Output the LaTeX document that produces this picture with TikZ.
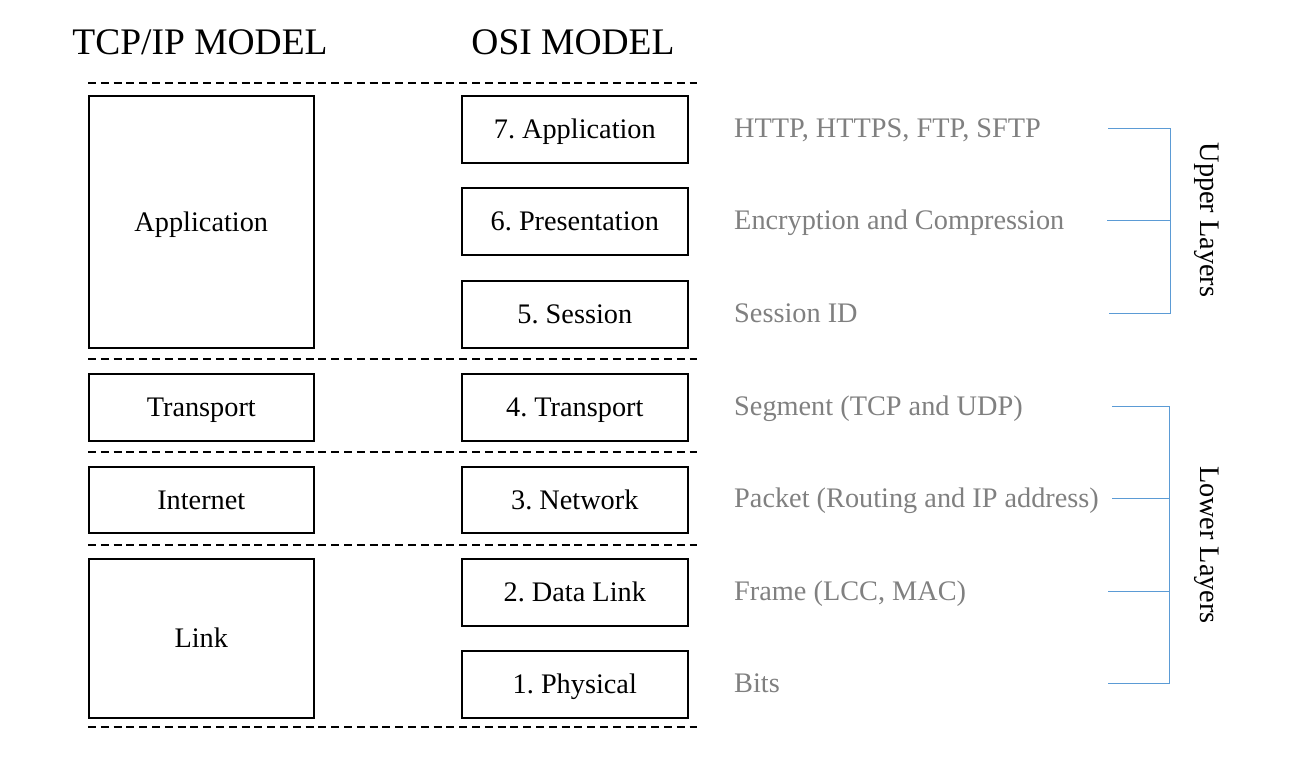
\documentclass[tikz,border=0pt]{standalone}
\usepackage{fontspec}
\setmainfont{Liberation Serif}
\definecolor{bluebr}{HTML}{5B9BD5}
\definecolor{greytxt}{HTML}{808080}
\frenchspacing
\begin{document}
\begin{tikzpicture}[x=1pt,y=-1pt,
  layerbox/.style={draw=black,line width=1.6pt,inner sep=0pt,anchor=north west,
    text height=18.6pt,text depth=0pt,
    font=\fontsize{28.3}{32}\selectfont},
  sep/.style={draw=black,line width=1.6pt,dash pattern=on 8pt off 4.8pt},
  title/.style={font=\fontsize{37.5}{42}\selectfont},
  info/.style={anchor=base west,inner sep=0pt,text=greytxt,font=\fontsize{28.3}{32}\selectfont},
  brk/.style={draw=bluebr,line width=1pt},
  side/.style={rotate=-90,font=\fontsize{28.3}{32}\selectfont}]
\useasboundingbox (0,0) rectangle (1308,760);
% titles
\node[title] (t1) at (200,42) {TCP/IP MODEL};
\node[title] (t2) at (573,42) {OSI MODEL};
% separators
\coordinate (s1a) at (88,83);  \coordinate (s1b) at (697,83);
\coordinate (s2a) at (88,359); \coordinate (s2b) at (697,359);
\coordinate (s3a) at (88,452); \coordinate (s3b) at (697,452);
\coordinate (s4a) at (88,545); \coordinate (s4b) at (697,545);
\coordinate (s5a) at (88,727); \coordinate (s5b) at (697,727);
\draw[sep] (s1a) -- (s1b);
\draw[sep] (s2a) -- (s2b);
\draw[sep] (s3a) -- (s3b);
\draw[sep] (s4a) -- (s4b);
\draw[sep] (s5a) -- (s5b);
% TCP/IP boxes
\node[layerbox,minimum width=225pt,minimum height=252pt] (tapp) at (88,95) {Application};
\node[layerbox,minimum width=225pt,minimum height=67pt] (ttra) at (88,373) {Transport};
\node[layerbox,minimum width=225pt,minimum height=66pt] (tint) at (88,466) {Internet};
\node[layerbox,minimum width=225pt,minimum height=159pt] (tlnk) at (88,558) {Link};
% OSI boxes
\node[layerbox,minimum width=226pt,minimum height=67pt] (o7) at (461,95) {7. Application};
\node[layerbox,minimum width=226pt,minimum height=67pt] (o6) at (461,187) {6. Presentation};
\node[layerbox,minimum width=226pt,minimum height=67pt] (o5) at (461,280) {5. Session};
\node[layerbox,minimum width=226pt,minimum height=67pt] (o4) at (461,373) {4. Transport};
\node[layerbox,minimum width=226pt,minimum height=66pt] (o3) at (461,466) {3. Network};
\node[layerbox,minimum width=226pt,minimum height=67pt] (o2) at (461,558) {2. Data Link};
\node[layerbox,minimum width=226pt,minimum height=67pt] (o1) at (461,650) {1. Physical};
% info labels
\node[info] (i7) at (734,137.5) {HTTP, HTTPS, FTP, SFTP};
\node[info] (i6) at (734,229.5) {Encryption and Compression};
\node[info] (i5) at (734,322.5) {Session ID};
\node[info] (i4) at (734,415.5) {Segment (TCP and UDP)};
\node[info] (i3) at (734,507.5) {Packet (Routing and IP address)};
\node[info] (i2) at (734,600.5) {Frame (LCC, MAC)};
\node[info] (i1) at (734,692.5) {Bits};
% upper bracket
\coordinate (u1) at (1108,128); \coordinate (u1e) at (1170,128);
\coordinate (u2) at (1107,220); \coordinate (u2e) at (1170,220);
\coordinate (u3) at (1109,313); \coordinate (u3e) at (1170,313);
\draw[brk] (u1) -- (u1e) -- (u3e) -- (u3);
\draw[brk] (u2) -- (u2e);
% lower bracket
\coordinate (l1) at (1112,406); \coordinate (l1e) at (1169,406);
\coordinate (l2) at (1112,498); \coordinate (l2e) at (1169,498);
\coordinate (l3) at (1108,591); \coordinate (l3e) at (1169,591);
\coordinate (l4) at (1108,683); \coordinate (l4e) at (1169,683);
\draw[brk] (l1) -- (l1e) -- (l4e) -- (l4);
\draw[brk] (l2) -- (l2e);
\draw[brk] (l3) -- (l3e);
% side labels
\node[side] (up) at (1207,220) {Upper Layers};
\node[side] (lo) at (1207,545) {Lower Layers};
\end{tikzpicture}
\end{document}
